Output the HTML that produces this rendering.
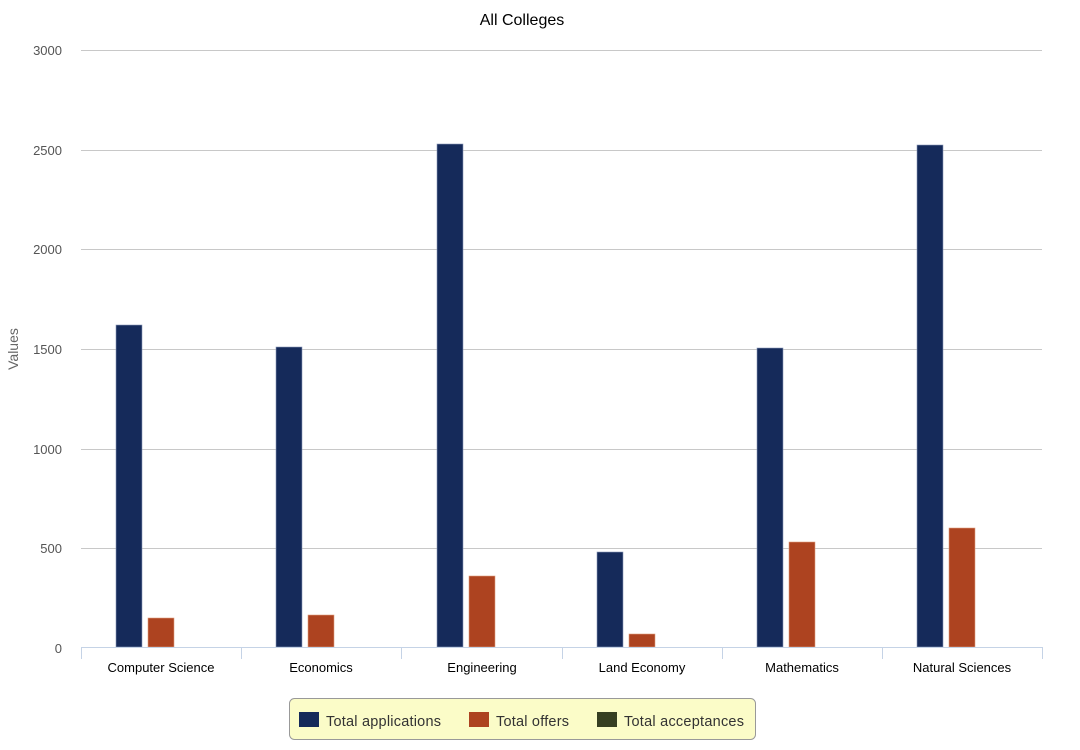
<!DOCTYPE html>
<html><head><style>
body{margin:0;background:#fff;}
svg{display:block;font-family:"Liberation Sans",Arial,sans-serif;}
</style></head><body>
<svg width="1080" height="750" viewBox="0 0 1080 750">
<text x="522" y="25" font-size="16" text-anchor="middle" fill="#000">All Colleges</text>
<g stroke="#c8c8c8" stroke-width="1">
<line x1="81" x2="1042" y1="50.5" y2="50.5"/>
<line x1="81" x2="1042" y1="150.5" y2="150.5"/>
<line x1="81" x2="1042" y1="249.5" y2="249.5"/>
<line x1="81" x2="1042" y1="349.5" y2="349.5"/>
<line x1="81" x2="1042" y1="449.5" y2="449.5"/>
<line x1="81" x2="1042" y1="548.5" y2="548.5"/>
</g>
<g font-size="13" fill="#555" text-anchor="end">
<text x="62" y="55">3000</text><text x="62" y="155">2500</text><text x="62" y="254">2000</text>
<text x="62" y="354">1500</text><text x="62" y="454">1000</text><text x="62" y="553">500</text><text x="62" y="653">0</text>
</g>
<text transform="translate(18,349) rotate(-90)" font-size="14" fill="#666" text-anchor="middle">Values</text>
<g fill="#152a5a" stroke="#8a9ab8" stroke-width="0.6">
<rect x="116" y="325" width="26" height="322"/>
<rect x="276" y="347" width="26" height="300"/>
<rect x="437" y="144" width="26" height="503"/>
<rect x="597" y="552" width="26" height="95"/>
<rect x="757" y="348" width="26" height="299"/>
<rect x="917" y="145" width="26" height="502"/>
</g>
<g fill="#ad4320" stroke="#e0a080" stroke-width="0.6">
<rect x="148" y="618" width="26" height="29"/>
<rect x="308" y="615" width="26" height="32"/>
<rect x="469" y="576" width="26" height="71"/>
<rect x="629" y="634" width="26" height="13"/>
<rect x="789" y="542" width="26" height="105"/>
<rect x="949" y="528" width="26" height="119"/>
</g>
<g stroke="#c5d3e6" stroke-width="1">
<line x1="81" x2="1042" y1="647.5" y2="647.5"/>
<line x1="81.5" x2="81.5" y1="647" y2="659"/>
<line x1="241.5" x2="241.5" y1="647" y2="659"/>
<line x1="401.5" x2="401.5" y1="647" y2="659"/>
<line x1="562.5" x2="562.5" y1="647" y2="659"/>
<line x1="722.5" x2="722.5" y1="647" y2="659"/>
<line x1="882.5" x2="882.5" y1="647" y2="659"/>
<line x1="1042.5" x2="1042.5" y1="647" y2="659"/>
</g>
<g font-size="13" fill="#000" text-anchor="middle">
<text x="161" y="672">Computer Science</text><text x="321" y="672">Economics</text>
<text x="482" y="672">Engineering</text><text x="642" y="672">Land Economy</text>
<text x="802" y="672">Mathematics</text><text x="962" y="672">Natural Sciences</text>
</g>
<rect x="289.5" y="698.5" width="466" height="41" rx="5" fill="#fbfcc8" stroke="#999"/>
<rect x="299" y="712" width="20" height="15" fill="#152a5a"/>
<rect x="469" y="712" width="20" height="15" fill="#ad4320"/>
<rect x="597" y="712" width="20" height="15" fill="#363f22"/>
<g font-size="14.5" fill="#333">
<text x="326" y="726" textLength="115">Total applications</text>
<text x="496" y="726" textLength="73">Total offers</text>
<text x="624" y="726" textLength="120">Total acceptances</text>
</g>
</svg>
</body></html>
